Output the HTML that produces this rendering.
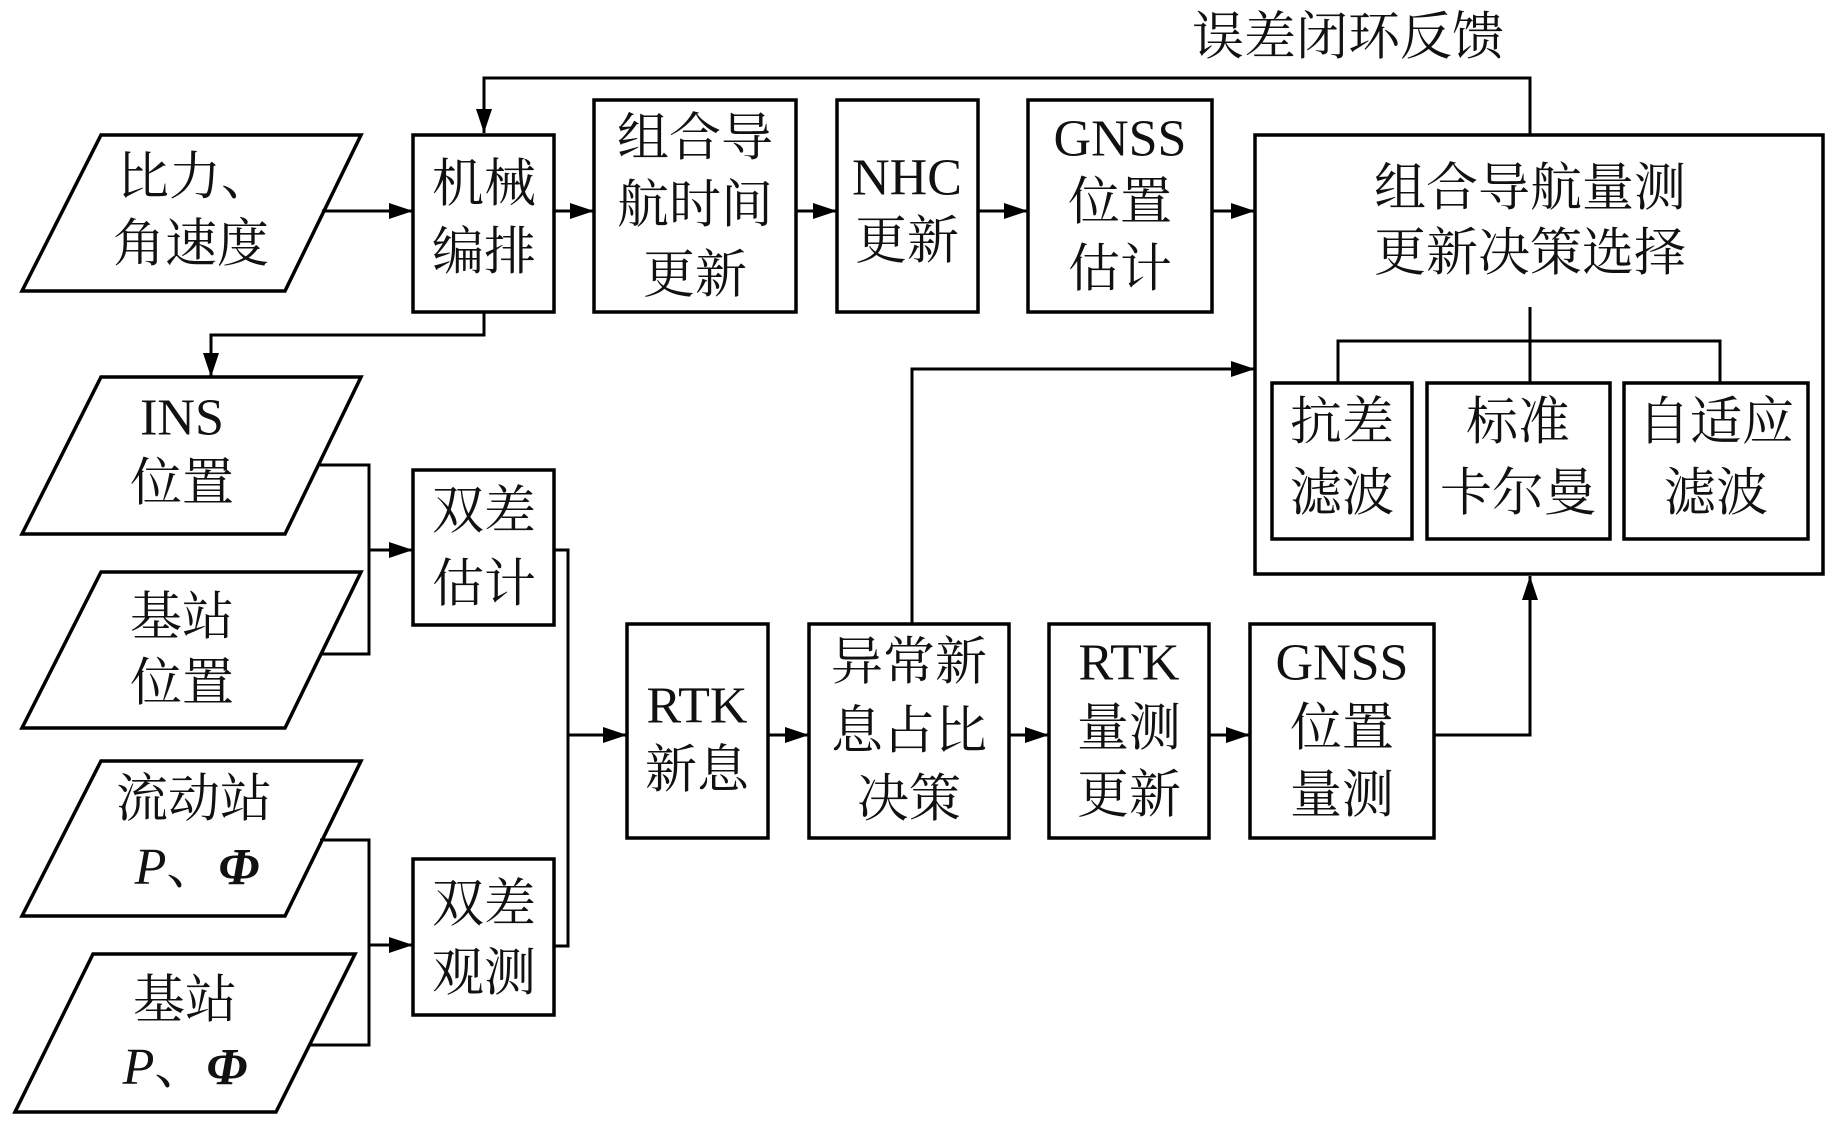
<!DOCTYPE html>
<html><head><meta charset="utf-8"><style>
html,body{margin:0;padding:0;background:#fff}
svg text{font-family:"Liberation Serif","Noto Serif CJK SC",serif;font-size:52px;fill:#111;text-anchor:middle;dominant-baseline:central}
</style></head><body>
<svg width="1843" height="1117" viewBox="0 0 1843 1117" xmlns="http://www.w3.org/2000/svg">
<defs><marker id="a" markerWidth="10" markerHeight="8" refX="10" refY="4" orient="auto" markerUnits="userSpaceOnUse" viewBox="0 0 10 8"><path d="M0,0L10,4L0,8z" fill="#000"/></marker>
<marker id="b" markerWidth="24" markerHeight="16" refX="24" refY="8" orient="auto" markerUnits="userSpaceOnUse"><path d="M0,0L24,8L0,16z" fill="#000"/></marker></defs>
<g fill="none" stroke="#000" stroke-width="3.5">
<!-- parallelograms -->
<polygon points="101,135 361,135 285,291 22,291"/>
<polygon points="101,377 361,377 285,534 22,534"/>
<polygon points="101,572 361,572 285,728 22,728"/>
<polygon points="101,761 361,761 285,916 22,916"/>
<polygon points="93,954 355,954 276,1112 15,1112"/>
<!-- boxes -->
<rect x="413" y="135" width="141" height="177"/>
<rect x="594" y="100" width="202" height="212"/>
<rect x="837" y="100" width="141" height="212"/>
<rect x="1028" y="100" width="184" height="212"/>
<rect x="1255" y="135" width="568" height="439"/>
<rect x="1272" y="383" width="140" height="156"/>
<rect x="1427" y="383" width="183" height="156"/>
<rect x="1624" y="383" width="184" height="156"/>
<rect x="413" y="470" width="141" height="155"/>
<rect x="413" y="859" width="141" height="156"/>
<rect x="627" y="624" width="141" height="214"/>
<rect x="809" y="624" width="200" height="214"/>
<rect x="1049" y="624" width="160" height="214"/>
<rect x="1250" y="624" width="184" height="214"/>
</g>
<g fill="none" stroke="#000" stroke-width="3">
<polyline points="1530,135 1530,78 484,78 484,133" marker-end="url(#b)"/>
<line x1="322" y1="211" x2="413" y2="211" marker-end="url(#b)"/>
<line x1="554" y1="211" x2="594" y2="211" marker-end="url(#b)"/>
<line x1="796" y1="211" x2="837" y2="211" marker-end="url(#b)"/>
<line x1="978" y1="211" x2="1028" y2="211" marker-end="url(#b)"/>
<line x1="1212" y1="211" x2="1255" y2="211" marker-end="url(#b)"/>
<line x1="1530" y1="307" x2="1530" y2="383"/>
<polyline points="1338,383 1338,341 1720,341 1720,383"/>
<polyline points="484,312 484,335 211,335 211,377" marker-end="url(#b)"/>
<polyline points="320,465 369,465 369,654 320,654"/>
<line x1="369" y1="550" x2="413" y2="550" marker-end="url(#b)"/>
<polyline points="320,840 369,840 369,1045 310,1045"/>
<line x1="369" y1="945" x2="413" y2="945" marker-end="url(#b)"/>
<polyline points="554,550 568,550 568,946 554,946"/>
<line x1="568" y1="735" x2="627" y2="735" marker-end="url(#b)"/>
<line x1="768" y1="735" x2="809" y2="735" marker-end="url(#b)"/>
<line x1="1009" y1="735" x2="1049" y2="735" marker-end="url(#b)"/>
<line x1="1209" y1="735" x2="1250" y2="735" marker-end="url(#b)"/>
<polyline points="912,624 912,369 1255,369" marker-end="url(#b)"/>
<polyline points="1434,735 1530,735 1530,576" marker-end="url(#b)"/>
</g>
<text x="1348" y="38">误差闭环反馈</text>
<text x="195" y="178">比力、</text><text x="191" y="245">角速度</text>
<text x="484" y="185">机械</text><text x="484" y="253">编排</text>
<text x="695" y="139">组合导</text><text x="695" y="206">航时间</text><text x="695" y="276">更新</text>
<text x="907" y="178">NHC</text><text x="907" y="242">更新</text>
<text x="1120" y="139">GNSS</text><text x="1120" y="203">位置</text><text x="1120" y="270">估计</text>
<text x="1530" y="189">组合导航量测</text><text x="1530" y="254">更新决策选择</text>
<text x="1342" y="423">抗差</text><text x="1342" y="494">滤波</text>
<text x="1518" y="423">标准</text><text x="1518" y="494">卡尔曼</text>
<text x="1716" y="423">自适应</text><text x="1716" y="494">滤波</text>
<text x="182" y="418">INS</text><text x="182" y="484">位置</text>
<text x="484" y="512">双差</text><text x="484" y="585">估计</text>
<text x="182" y="618">基站</text><text x="182" y="684">位置</text>
<text x="194" y="800">流动站</text><text x="197" y="867"><tspan font-style="italic">P</tspan>、<tspan font-style="italic" font-weight="bold">Φ</tspan></text>
<text x="185" y="1001">基站</text><text x="185" y="1067"><tspan font-style="italic">P</tspan>、<tspan font-style="italic" font-weight="bold">Φ</tspan></text>
<text x="484" y="905">双差</text><text x="484" y="974">观测</text>
<text x="697" y="706">RTK</text><text x="697" y="771">新息</text>
<text x="909" y="663">异常新</text><text x="909" y="732">息占比</text><text x="909" y="800">决策</text>
<text x="1129" y="663">RTK</text><text x="1129" y="729">量测</text><text x="1129" y="796">更新</text>
<text x="1342" y="663">GNSS</text><text x="1342" y="729">位置</text><text x="1342" y="796">量测</text>
</svg>
</body></html>
